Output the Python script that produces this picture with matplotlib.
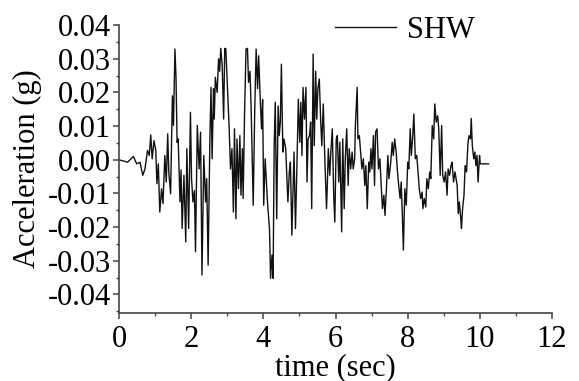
import matplotlib
matplotlib.use('Agg')
import matplotlib.pyplot as plt
from matplotlib.ticker import MultipleLocator
import numpy as np

# SHW record (time in s, acceleration in g)
t = [0.00, 0.24, 0.40, 0.49, 0.58, 0.66, 0.72, 0.79, 0.84, 0.88, 0.92, 0.97,
     1.02, 1.05, 1.09, 1.13, 1.18, 1.22, 1.27, 1.31, 1.35, 1.38, 1.43, 1.48,
     1.51, 1.55, 1.58, 1.61, 1.64, 1.69, 1.72, 1.75, 1.80, 1.85, 1.88, 1.93,
     1.98, 2.01, 2.05, 2.09, 2.12, 2.17, 2.22,
     2.26, 2.30, 2.35, 2.40, 2.43, 2.47, 2.52, 2.55, 2.58, 2.62, 2.64, 2.67,
     2.72, 2.76, 2.79, 2.82, 2.86, 2.90, 2.93, 2.96, 3.02, 3.05, 3.09, 3.13,
     3.17, 3.20, 3.24, 3.27, 3.31, 3.35, 3.38, 3.42, 3.44, 3.48, 3.52, 3.56,
     3.59, 3.63, 3.66, 3.72, 3.76, 3.80, 3.84, 3.87, 3.91, 3.95, 3.98, 4.01,
     4.05, 4.12, 4.17, 4.20, 4.24, 4.27, 4.30, 4.33, 4.37, 4.41, 4.44, 4.47,
     4.50, 4.54, 4.57,
     4.62, 4.65, 4.68, 4.72, 4.75, 4.79, 4.82, 4.85, 4.89, 4.92, 4.97, 5.01,
     5.04, 5.07, 5.10, 5.14, 5.18, 5.21, 5.24, 5.28, 5.31, 5.34, 5.38, 5.41,
     5.45, 5.48, 5.51, 5.55, 5.59, 5.62, 5.66, 5.70, 5.75, 5.77, 5.80, 5.84,
     5.87, 5.91, 5.95, 5.98, 6.02, 6.05, 6.09, 6.12, 6.17, 6.20, 6.24, 6.27,
     6.31, 6.35, 6.38, 6.42, 6.46, 6.49, 6.53, 6.55, 6.60, 6.62, 6.66, 6.70,
     6.73, 6.77, 6.81, 6.84, 6.88, 6.92, 6.95,
     6.98, 7.01, 7.05, 7.08, 7.11, 7.15, 7.19, 7.23, 7.26, 7.30, 7.34, 7.37,
     7.41, 7.45, 7.48, 7.53, 7.57, 7.60, 7.64, 7.68, 7.71, 7.75, 7.79, 7.82,
     7.85, 7.88, 7.92, 7.96, 8.00, 8.03, 8.07, 8.10, 8.14, 8.17, 8.21, 8.25,
     8.28, 8.32, 8.36, 8.40, 8.42, 8.46, 8.50, 8.53, 8.57, 8.61, 8.64, 8.68,
     8.72, 8.75, 8.79, 8.83, 8.86, 8.90, 8.94, 8.97, 9.01, 9.05, 9.09, 9.12,
     9.16, 9.20, 9.23, 9.27, 9.31,
     9.37, 9.40, 9.43, 9.47, 9.49, 9.52, 9.56, 9.59, 9.63, 9.67, 9.70, 9.74,
     9.76, 9.79, 9.83, 9.86, 9.89, 9.92, 9.95, 9.99, 10.01, 10.24]

acc = [0.0000, -0.0007, 0.0010, -0.0012, -0.0007, -0.0046, -0.0027, 0.0028,
       0.0013, 0.0074, 0.0003, 0.0057, 0.0028, -0.0071, -0.0012, -0.0155,
       -0.0086, -0.0130, 0.0013, -0.0066, 0.0077, -0.0036, -0.0101, 0.0190,
       0.0102, 0.0329, 0.0245, 0.0052, 0.0062, -0.0125, -0.0030, -0.0204,
       -0.0046, -0.0244, 0.0033, -0.0204, 0.0141, -0.0056, -0.0125, -0.0091,
       -0.0273, 0.0102, -0.0027,
       0.0082, -0.0342, 0.0013, -0.0125, -0.0056, -0.0313, 0.0072, 0.0215,
       0.0003, 0.0211, 0.0121, 0.0245, 0.0200, 0.0300, 0.0263, 0.0331, 0.0280,
       0.0121, 0.0331, 0.0330, 0.0180, 0.0102, -0.0027, 0.0033, -0.0155,
       0.0092, -0.0175, 0.0062, -0.0086, 0.0072, -0.0105, 0.0033, -0.0115,
       0.0141, 0.0329, 0.0331, 0.0230, 0.0263, 0.0160, -0.0135, 0.0141, 0.0329,
       0.0211, 0.0309, 0.0190, 0.0092, 0.0179, -0.0135, 0.0003, -0.0135,
       -0.0204, -0.0352, -0.0283, -0.0352, 0.0042, 0.0171, -0.0175, 0.0160,
       0.0072, 0.0112, 0.0284, 0.0023, 0.0062,
       0.0033, -0.0046, -0.0125, -0.0036, -0.0007, -0.0224, -0.0096, 0.0023,
       -0.0204, -0.0066, 0.0180, 0.0052, 0.0171, 0.0013, 0.0215, 0.0121,
       0.0215, -0.0066, 0.0062, 0.0072, 0.0112, -0.0145, 0.0314, 0.0042,
       0.0263, 0.0121, 0.0211, 0.0240, 0.0112, 0.0042, 0.0166, 0.0013, -0.0145,
       -0.0086, 0.0033, -0.0046, 0.0023, 0.0092, -0.0105, -0.0185, 0.0062,
       0.0072, -0.0066, 0.0052, -0.0214, 0.0062, -0.0145, 0.0003, 0.0092,
       -0.0076, 0.0033, -0.0027, 0.0023, -0.0027, 0.0003, 0.0102, 0.0215,
       0.0062, 0.0072, 0.0013, -0.0027, 0.0003, -0.0076, -0.0017, -0.0145,
       -0.0007, -0.0036,
       0.0033, -0.0027, 0.0072, -0.0076, 0.0082, 0.0092, -0.0027, 0.0003,
       -0.0066, -0.0145, -0.0105, -0.0165, -0.0086, 0.0013, -0.0056, -0.0007,
       0.0052, 0.0013, 0.0062, 0.0023, -0.0027, -0.0076, -0.0115, -0.0066,
       -0.0160, -0.0268, -0.0086, -0.0135, -0.0007, -0.0027, 0.0092, 0.0013,
       0.0072, 0.0136, 0.0003, 0.0013, -0.0027, -0.0086, -0.0115, -0.0096,
       -0.0145, -0.0115, -0.0140, -0.0056, -0.0086, -0.0036, -0.0056, 0.0102,
       0.0062, 0.0166, 0.0112, 0.0131, 0.0092, -0.0046, 0.0102, -0.0046,
       -0.0066, -0.0036, -0.0105, -0.0027, -0.0046, -0.0017, -0.0007, -0.0066,
       -0.0036,
       -0.0076, -0.0160, -0.0125, -0.0175, -0.0204, -0.0145, -0.0105, -0.0017,
       -0.0036, 0.0052, 0.0072, 0.0062, 0.0123, 0.0042, 0.0003, 0.0023,
       -0.0017, 0.0013, -0.0066, 0.0013, -0.0012, -0.0012]

plt.rcParams['font.family'] = ['Liberation Serif', 'DejaVu Serif']
plt.rcParams['font.size'] = 22

fig = plt.figure(figsize=(5.79, 3.81), dpi=100)
ax = fig.add_axes([0.2055, 0.1785, 0.748, 0.7555])

ax.plot(t, acc, color='#111111', lw=1.0, label='SHW')

ax.set_xlim(0, 12)
ax.set_ylim(-0.0455, 0.04)
ax.xaxis.set_major_locator(MultipleLocator(2))
ax.xaxis.set_minor_locator(MultipleLocator(1))
ax.yaxis.set_major_locator(MultipleLocator(0.01))
ax.yaxis.set_minor_locator(MultipleLocator(0.005))
ax.yaxis.set_major_formatter(plt.FuncFormatter(lambda v, p: '%.2f' % v if abs(v) > 1e-9 else '0.00'))

for s in ['top', 'right']:
    ax.spines[s].set_visible(False)
for s in ['left', 'bottom']:
    ax.spines[s].set_color('#444444')
    ax.spines[s].set_linewidth(1.2)
ax.tick_params(which='major', length=4, width=1.1, color='#444444', pad=2)
ax.tick_params(axis='x', which='major', pad=5)
ax.tick_params(which='minor', length=2.5, width=1.0, color='#444444')

ax.set_xlabel('time (sec)', labelpad=-1)
ax.set_ylabel('Acceleration (g)', labelpad=4)

ax.legend(loc='upper left', bbox_to_anchor=(335 / 579, 1 - 16 / 381),
          bbox_transform=fig.transFigure, frameon=False, borderpad=0,
          borderaxespad=0, handlelength=2.0, handletextpad=0.35)

fig.savefig('out.png', dpi=100)
